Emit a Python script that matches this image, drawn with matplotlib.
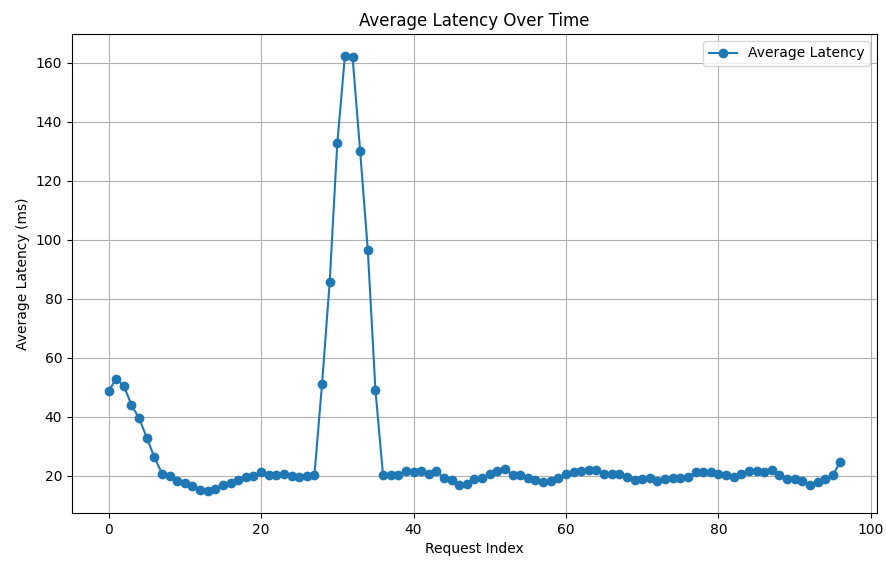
import matplotlib
matplotlib.use("Agg")
import matplotlib.pyplot as plt

# average latency per request index (ms)
latency = [
    48.7, 53.0, 50.5, 44.0, 39.5, 33.0, 26.3, 20.8, 19.8, 18.3,
    17.5, 16.5, 15.3, 14.8, 15.5, 16.8, 17.5, 18.5, 19.5, 20.0,
    21.3, 20.3, 20.3, 20.6, 20.0, 19.6, 20.0, 20.3, 51.2, 85.7,
    132.8, 162.4, 162.0, 130.0, 96.6, 49.2, 20.2, 20.3, 20.2, 21.8,
    21.3, 21.8, 20.8, 21.8, 19.2, 18.5, 16.8, 17.2, 18.8, 19.3,
    20.5, 21.8, 22.3, 20.4, 20.2, 19.2, 18.5, 17.8, 18.3, 19.2,
    20.8, 21.3, 21.8, 22.0, 22.0, 20.8, 20.8, 20.6, 19.6, 18.6,
    18.8, 19.2, 18.2, 18.8, 19.2, 19.2, 19.6, 21.3, 21.3, 21.2,
    20.5, 20.2, 19.5, 20.5, 21.8, 21.8, 21.3, 22.0, 20.3, 18.8,
    18.8, 18.3, 16.8, 17.8, 18.8, 20.2, 24.8,
]
request_index = list(range(len(latency)))

fig, ax = plt.subplots(figsize=(8.86, 5.61), dpi=100)
ax.plot(request_index, latency, marker='o', label='Average Latency')
ax.set_title('Average Latency Over Time')
ax.set_xlabel('Request Index')
ax.set_ylabel('Average Latency (ms)')
ax.grid(True)
ax.legend()
fig.subplots_adjust(left=0.0813, right=0.9898, top=0.9394, bottom=0.0856)
fig.savefig('out.png', dpi=100)
